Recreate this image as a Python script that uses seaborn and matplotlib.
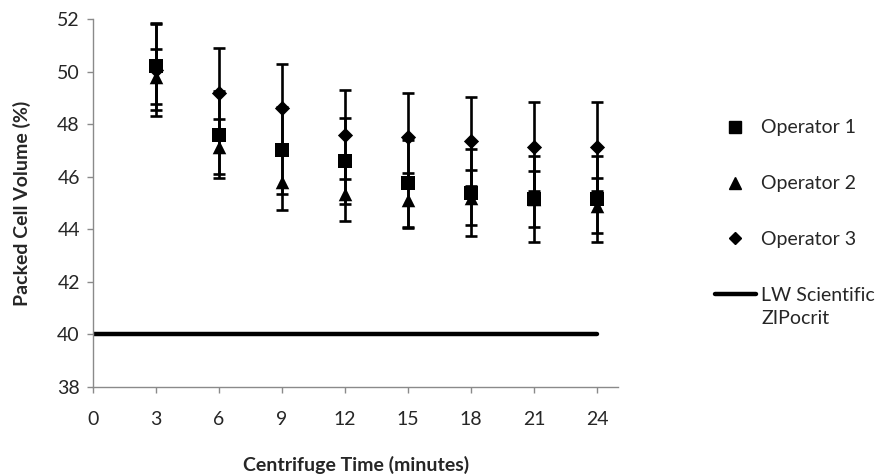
import pandas as pd
import seaborn as sns
import matplotlib.pyplot as plt
from matplotlib.lines import Line2D

# data
times = [3, 6, 9, 12, 15, 18, 21, 24]
op1 = [50.2, 47.6, 47.0, 46.6, 45.75, 45.4, 45.15, 45.15]
op1_err = [1.65, 1.65, 1.65, 1.65, 1.65, 1.65, 1.65, 1.65]
op2 = [49.8, 47.15, 45.8, 45.35, 45.1, 45.2, 45.15, 44.9]
op2_err = [1.05, 1.05, 1.05, 1.05, 1.05, 1.05, 1.05, 1.05]
op3 = [50.05, 49.2, 48.6, 47.6, 47.5, 47.35, 47.15, 47.15]
op3_err = [1.75, 1.7, 1.7, 1.7, 1.7, 1.7, 1.7, 1.7]
ref_x = [0, 24]
ref_y = [40, 40]

sns.set_theme(style='white')
plt.rcParams['font.family'] = ['Lato', 'DejaVu Sans']

df = pd.DataFrame({
    'time': times * 3,
    'pcv': op1 + op2 + op3,
    'err': op1_err + op2_err + op3_err,
    'operator': ['Operator 1'] * 8 + ['Operator 2'] * 8 + ['Operator 3'] * 8,
})
markers = {'Operator 1': 's', 'Operator 2': '^', 'Operator 3': 'D'}
sizes = {'Operator 1': 95, 'Operator 2': 95, 'Operator 3': 60}
zorders = {'Operator 1': 4, 'Operator 2': 5, 'Operator 3': 3}

fig = plt.figure(figsize=(8.78, 4.76), dpi=100)
ax = fig.add_axes([0.106, 0.187, 0.598, 0.773])

# reference line
sns.lineplot(x=ref_x, y=ref_y, color='black', linewidth=3.2, ax=ax, zorder=2)

for name in ['Operator 3', 'Operator 1', 'Operator 2']:
    d = df[df['operator'] == name]
    ax.errorbar(d['time'], d['pcv'], yerr=d['err'], fmt='none', ecolor='black',
                elinewidth=1.9, capsize=4.5, capthick=1.9, zorder=zorders[name])
    sns.scatterplot(data=d, x='time', y='pcv', marker=markers[name], s=sizes[name],
                    color='black', edgecolor='black', linewidth=0, ax=ax,
                    zorder=zorders[name] + 0.5, legend=False)

ax.set_xlim(0, 25)
ax.set_ylim(38, 52)
ax.set_xticks(range(0, 25, 3))
ax.set_yticks(range(38, 53, 2))
for s in ['top', 'right']:
    ax.spines[s].set_visible(False)
for s in ['left', 'bottom']:
    ax.spines[s].set_color('#8a8a8a')
    ax.spines[s].set_linewidth(1)
ax.tick_params(axis='x', direction='out', length=4.5, width=1, color='#8a8a8a',
               pad=13, labelsize=14, bottom=True)
ax.tick_params(axis='y', direction='out', length=4.5, width=1, color='#8a8a8a',
               pad=5, labelsize=14, left=True)
ax.set_xlabel('Centrifuge Time (minutes)', fontsize=14, fontweight='bold', labelpad=20)
ax.set_ylabel('Packed Cell Volume (%)', fontsize=14, fontweight='bold', labelpad=19)

handles = [
    Line2D([], [], marker='s', color='black', linestyle='none', markersize=9),
    Line2D([], [], marker='^', color='black', linestyle='none', markersize=9),
    Line2D([], [], marker='D', color='black', linestyle='none', markersize=6.5),
    Line2D([], [], color='black', linewidth=3.2),
]
labels = ['Operator 1', 'Operator 2', 'Operator 3', 'LW Scientific']
leg = fig.legend(handles, labels, loc='upper left', bbox_to_anchor=(0.814, 0.749),
                 frameon=False, fontsize=14, handlelength=2.1, handletextpad=0.3,
                 labelspacing=2.0, borderpad=0, borderaxespad=0)

# second line of the last legend label, placed just below the first
fig.canvas.draw()
bb = leg.get_texts()[3].get_window_extent().transformed(fig.transFigure.inverted())
fig.text(bb.x0, bb.y0 - 0.012, 'ZIPocrit', fontsize=14, va='top', ha='left')

fig.savefig('out.png', dpi=100)
